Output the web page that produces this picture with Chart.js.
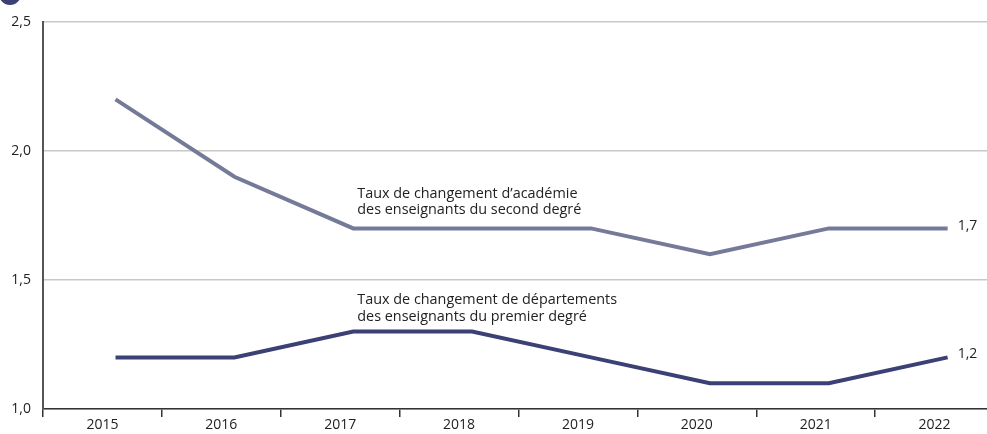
<!DOCTYPE html>
<html lang="fr">
<head>
<meta charset="utf-8">
<script src="https://cdn.jsdelivr.net/npm/chart.js@4/dist/chart.umd.min.js"></script>
<style>
  html, body { margin: 0; padding: 0; background: #fff; overflow: hidden; }
  #cadre { width: 996px; height: 434px; position: relative; }
</style>
</head>
<body>
<div id="cadre"><canvas id="graphique"></canvas></div>
<script>
// Données
const annees = ['2015', '2016', '2017', '2018', '2019', '2020', '2021', '2022'];
const tauxSecondDegre = [2.2, 1.9, 1.7, 1.7, 1.7, 1.6, 1.7, 1.7];
const tauxPremierDegre = [1.2, 1.2, 1.3, 1.3, 1.2, 1.1, 1.1, 1.2];
const libelleSecond = ["Taux de changement d\u2019académie", "des enseignants du second degré"];
const libellePremier = ["Taux de changement de départements", "des enseignants du premier degré"];

const POLICE = "'Open Sans', 'Noto Sans', sans-serif";
const couleurSecond = '#757a99';
const couleurPremier = '#3b4075';

const virgule = v => v.toFixed(1).replace('.', ',');

// Textes sur le graphique (libellés des courbes et dernières valeurs)
const textesPlugin = {
    id: 'textes',
    afterDatasetsDraw(chart) {
        const ctx = chart.ctx;
        const x = chart.scales.x;
        const y = chart.scales.y;
        ctx.save();
        ctx.fillStyle = '#222';
        ctx.font = '14.4px ' + POLICE;
        ctx.textBaseline = 'alphabetic';
        ctx.textAlign = 'left';

        // libellés des séries, ancrés au point 2017
        const xa = x.getPixelForValue(2) + 4;
        let yb = y.getPixelForValue(tauxSecondDegre[2]) - 14;
        ctx.fillText(libelleSecond[1], xa, yb);
        ctx.fillText(libelleSecond[0], xa, yb - 16.5);
        yb = y.getPixelForValue(tauxPremierDegre[2]) - 11;
        ctx.fillText(libellePremier[1], xa, yb);
        ctx.fillText(libellePremier[0], xa, yb - 16.5);

        // dernières valeurs
        const n = annees.length - 1;
        ctx.font = '14px ' + POLICE;
        ctx.textBaseline = 'middle';
        const xv = x.getPixelForValue(n) + 10;
        ctx.fillText(virgule(tauxSecondDegre[n]), xv, y.getPixelForValue(tauxSecondDegre[n]) - 2);
        ctx.fillText(virgule(tauxPremierDegre[n]), xv, y.getPixelForValue(tauxPremierDegre[n]) - 3);

        // pastille du titre (coupée en haut)
        ctx.fillStyle = couleurPremier;
        ctx.beginPath();
        ctx.arc(10, -6, 11, 0, Math.PI * 2);
        ctx.fill();
        ctx.restore();
    }
};

const points = serie => serie.map((v, i) => ({ x: i, y: v }));

new Chart(document.getElementById('graphique'), {
    type: 'line',
    data: {
        datasets: [
            {
                data: points(tauxSecondDegre),
                borderColor: couleurSecond,
                borderWidth: 4,
                pointRadius: 0,
                tension: 0,
                xAxisID: 'x'
            },
            {
                data: points(tauxPremierDegre),
                borderColor: couleurPremier,
                borderWidth: 4,
                pointRadius: 0,
                tension: 0,
                xAxisID: 'x'
            }
        ]
    },
    options: {
        responsive: true,
        maintainAspectRatio: false,
        animation: false,
        layout: { padding: { top: 22, right: 2, left: 0, bottom: 0 } },
        plugins: {
            legend: { display: false },
            tooltip: { enabled: false }
        },
        scales: {
            x: {
                type: 'linear',
                min: -0.61,
                max: 7.39,
                display: false
            },
            annees: {
                type: 'category',
                labels: annees,
                position: 'bottom',
                offset: true,
                grid: {
                    offset: true,
                    drawOnChartArea: false,
                    color: '#333',
                    lineWidth: 1.5,
                    tickLength: 8
                },
                border: { color: '#333', width: 1.5 },
                ticks: {
                    color: '#222',
                    font: { family: POLICE, size: 14 },
                    padding: 0,
                    maxRotation: 0
                },
                afterFit(scale) { scale.height = 25; }
            },
            y: {
                min: 1,
                max: 2.5,
                ticks: {
                    stepSize: 0.5,
                    color: '#222',
                    font: { family: POLICE, size: 14 },
                    padding: 12,
                    callback: v => virgule(v)
                },
                grid: { color: '#c8c8c8', lineWidth: 1.5, drawTicks: false },
                border: { color: '#555', width: 2 },
                afterFit(scale) { scale.width = 43; }
            }
        }
    },
    plugins: [textesPlugin]
});
</script>
</body>
</html>
